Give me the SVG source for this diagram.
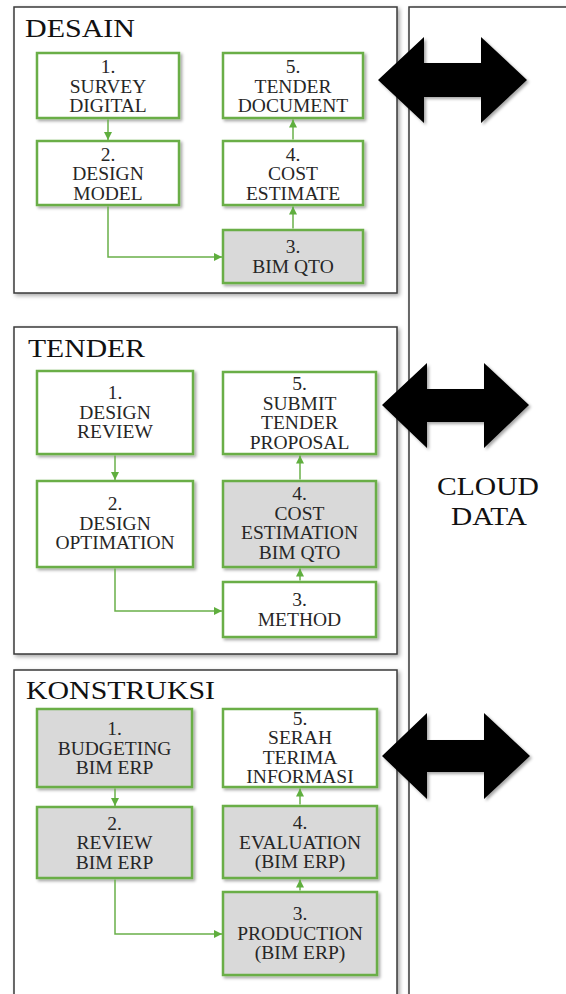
<svg xmlns="http://www.w3.org/2000/svg" width="566" height="994" viewBox="0 0 566 994">
  <defs>
    <filter id="shadow" x="-10%" y="-10%" width="130%" height="130%">
      <feDropShadow dx="2" dy="2" stdDeviation="1.6" flood-color="#000" flood-opacity="0.35"/>
    </filter>
    <filter id="panelShadow" x="-10%" y="-10%" width="130%" height="130%">
      <feDropShadow dx="2" dy="2" stdDeviation="2" flood-color="#000" flood-opacity="0.35"/>
    </filter>
    <marker id="arrow" markerUnits="userSpaceOnUse" markerWidth="9" markerHeight="9" refX="8" refY="4" orient="auto">
      <path d="M0,0 L8,4 L0,8 z" fill="#5FAE3E"/>
    </marker>
  </defs>

  <rect width="566" height="994" fill="#fff"/>

  <!-- Panels: white frames with a dark border and soft shadow -->
  <g fill="#fff" stroke="#3a3a3a" stroke-width="1.5">
    <rect id="panel-cloud" x="409" y="7" width="170" height="1000" filter="url(#panelShadow)"/>
    <rect id="panel-desain" x="14" y="7" width="383" height="286" filter="url(#panelShadow)"/>
    <rect id="panel-tender" x="14" y="327" width="383" height="327" filter="url(#panelShadow)"/>
    <rect id="panel-konstruksi" x="14" y="670" width="383" height="340" filter="url(#panelShadow)"/>
  </g>

  <!-- Panel titles -->
  <g id="titles" fill="#111">
    <text font-family="Liberation Serif" font-size="25" x="437" y="495" textLength="102" lengthAdjust="spacingAndGlyphs">CLOUD</text>
    <text font-family="Liberation Serif" font-size="25" x="451" y="525" textLength="76" lengthAdjust="spacingAndGlyphs">DATA</text>
    <text font-family="Liberation Serif" font-size="25" x="25" y="36.5" textLength="110" lengthAdjust="spacingAndGlyphs">DESAIN</text>
    <text font-family="Liberation Serif" font-size="25" x="28" y="357" textLength="117" lengthAdjust="spacingAndGlyphs">TENDER</text>
    <text font-family="Liberation Serif" font-size="25" x="26" y="699" textLength="189" lengthAdjust="spacingAndGlyphs">KONSTRUKSI</text>
  </g>

  <!-- Data exchange arrows -->
  <g id="exchange-arrows" fill="#000">
    <polygon filter="url(#shadow)" points="378,80 424,37 424,63 481,63 481,37 527,80 481,123 481,97 424,97 424,123"/>
    <polygon filter="url(#shadow)" points="382,405 427,363 427,389 484,389 484,363 529,405 484,448 484,422 427,422 427,448"/>
    <polygon filter="url(#shadow)" points="382,756 427,713 427,740 484,740 484,713 530,756 484,799 484,772 427,772 427,799"/>
  </g>

  <!-- Process steps: green outlined boxes; grey fill marks BIM-tool steps -->
  <g id="nodes" stroke="#6AAE47" stroke-width="2.5">
    <g id="desain-1">
      <rect x="37" y="53" width="142" height="65" fill="#fff" filter="url(#shadow)"/>
      <g fill="#262626" stroke="none" text-anchor="middle">
        <text font-family="Liberation Serif" font-size="19.5" x="108" y="73">1.</text>
        <text font-family="Liberation Serif" font-size="19.5" x="108" y="92.5">SURVEY</text>
        <text font-family="Liberation Serif" font-size="19.5" x="108" y="112">DIGITAL</text>
      </g>
    </g>
    <g id="desain-2">
      <rect x="37" y="141" width="142" height="64" fill="#fff" filter="url(#shadow)"/>
      <g fill="#262626" stroke="none" text-anchor="middle">
        <text font-family="Liberation Serif" font-size="19.5" x="108" y="160.5">2.</text>
        <text font-family="Liberation Serif" font-size="19.5" x="108" y="180">DESIGN</text>
        <text font-family="Liberation Serif" font-size="19.5" x="108" y="199.5">MODEL</text>
      </g>
    </g>
    <g id="desain-3">
      <rect x="223" y="230" width="140" height="53" fill="#D9D9D9" filter="url(#shadow)"/>
      <g fill="#262626" stroke="none" text-anchor="middle">
        <text font-family="Liberation Serif" font-size="19.5" x="293" y="253.3">3.</text>
        <text font-family="Liberation Serif" font-size="19.5" x="293" y="272.8">BIM QTO</text>
      </g>
    </g>
    <g id="desain-4">
      <rect x="223" y="141" width="140" height="64" fill="#fff" filter="url(#shadow)"/>
      <g fill="#262626" stroke="none" text-anchor="middle">
        <text font-family="Liberation Serif" font-size="19.5" x="293" y="160.5">4.</text>
        <text font-family="Liberation Serif" font-size="19.5" x="293" y="180">COST</text>
        <text font-family="Liberation Serif" font-size="19.5" x="293" y="199.5">ESTIMATE</text>
      </g>
    </g>
    <g id="desain-5">
      <rect x="223" y="53" width="140" height="65" fill="#fff" filter="url(#shadow)"/>
      <g fill="#262626" stroke="none" text-anchor="middle">
        <text font-family="Liberation Serif" font-size="19.5" x="293" y="73">5.</text>
        <text font-family="Liberation Serif" font-size="19.5" x="293" y="92.5">TENDER</text>
        <text font-family="Liberation Serif" font-size="19.5" x="293" y="112">DOCUMENT</text>
      </g>
    </g>

    <g id="tender-1">
      <rect x="37" y="371" width="156" height="83" fill="#fff" filter="url(#shadow)"/>
      <g fill="#262626" stroke="none" text-anchor="middle">
        <text font-family="Liberation Serif" font-size="19.5" x="115" y="399">1.</text>
        <text font-family="Liberation Serif" font-size="19.5" x="115" y="418.5">DESIGN</text>
        <text font-family="Liberation Serif" font-size="19.5" x="115" y="438">REVIEW</text>
      </g>
    </g>
    <g id="tender-2">
      <rect x="37" y="481" width="156" height="86" fill="#fff" filter="url(#shadow)"/>
      <g fill="#262626" stroke="none" text-anchor="middle">
        <text font-family="Liberation Serif" font-size="19.5" x="115" y="510">2.</text>
        <text font-family="Liberation Serif" font-size="19.5" x="115" y="529.5">DESIGN</text>
        <text font-family="Liberation Serif" font-size="19.5" x="115" y="549">OPTIMATION</text>
      </g>
    </g>
    <g id="tender-3">
      <rect x="223" y="582" width="153" height="55" fill="#fff" filter="url(#shadow)"/>
      <g fill="#262626" stroke="none" text-anchor="middle">
        <text font-family="Liberation Serif" font-size="19.5" x="299.5" y="606">3.</text>
        <text font-family="Liberation Serif" font-size="19.5" x="299.5" y="625.5">METHOD</text>
      </g>
    </g>
    <g id="tender-4">
      <rect x="223" y="481" width="153" height="86" fill="#D9D9D9" filter="url(#shadow)"/>
      <g fill="#262626" stroke="none" text-anchor="middle">
        <text font-family="Liberation Serif" font-size="19.5" x="299.5" y="500">4.</text>
        <text font-family="Liberation Serif" font-size="19.5" x="299.5" y="519.5">COST</text>
        <text font-family="Liberation Serif" font-size="19.5" x="299.5" y="539">ESTIMATION</text>
        <text font-family="Liberation Serif" font-size="19.5" x="299.5" y="558.5">BIM QTO</text>
      </g>
    </g>
    <g id="tender-5">
      <rect x="223" y="372" width="153" height="82" fill="#fff" filter="url(#shadow)"/>
      <g fill="#262626" stroke="none" text-anchor="middle">
        <text font-family="Liberation Serif" font-size="19.5" x="299.5" y="390">5.</text>
        <text font-family="Liberation Serif" font-size="19.5" x="299.5" y="409.5">SUBMIT</text>
        <text font-family="Liberation Serif" font-size="19.5" x="299.5" y="429">TENDER</text>
        <text font-family="Liberation Serif" font-size="19.5" x="299.5" y="448.5">PROPOSAL</text>
      </g>
    </g>

    <g id="konstruksi-1">
      <rect x="37" y="709" width="155" height="78" fill="#D9D9D9" filter="url(#shadow)"/>
      <g fill="#262626" stroke="none" text-anchor="middle">
        <text font-family="Liberation Serif" font-size="19.5" x="114.5" y="735">1.</text>
        <text font-family="Liberation Serif" font-size="19.5" x="114.5" y="754.5">BUDGETING</text>
        <text font-family="Liberation Serif" font-size="19.5" x="114.5" y="774">BIM ERP</text>
      </g>
    </g>
    <g id="konstruksi-2">
      <rect x="37" y="807" width="155" height="71" fill="#D9D9D9" filter="url(#shadow)"/>
      <g fill="#262626" stroke="none" text-anchor="middle">
        <text font-family="Liberation Serif" font-size="19.5" x="114.5" y="829.5">2.</text>
        <text font-family="Liberation Serif" font-size="19.5" x="114.5" y="849">REVIEW</text>
        <text font-family="Liberation Serif" font-size="19.5" x="114.5" y="868.5">BIM ERP</text>
      </g>
    </g>
    <g id="konstruksi-3">
      <rect x="223" y="892" width="154" height="83" fill="#D9D9D9" filter="url(#shadow)"/>
      <g fill="#262626" stroke="none" text-anchor="middle">
        <text font-family="Liberation Serif" font-size="19.5" x="300" y="920">3.</text>
        <text font-family="Liberation Serif" font-size="19.5" x="300" y="939.5">PRODUCTION</text>
        <text font-family="Liberation Serif" font-size="19.5" x="300" y="959">(BIM ERP)</text>
      </g>
    </g>
    <g id="konstruksi-4">
      <rect x="223" y="806" width="154" height="72" fill="#D9D9D9" filter="url(#shadow)"/>
      <g fill="#262626" stroke="none" text-anchor="middle">
        <text font-family="Liberation Serif" font-size="19.5" x="300" y="829">4.</text>
        <text font-family="Liberation Serif" font-size="19.5" x="300" y="848.5">EVALUATION</text>
        <text font-family="Liberation Serif" font-size="19.5" x="300" y="868">(BIM ERP)</text>
      </g>
    </g>
    <g id="konstruksi-5">
      <rect x="223" y="709" width="154" height="78" fill="#fff" filter="url(#shadow)"/>
      <g fill="#262626" stroke="none" text-anchor="middle">
        <text font-family="Liberation Serif" font-size="19.5" x="300" y="724.5">5.</text>
        <text font-family="Liberation Serif" font-size="19.5" x="300" y="744">SERAH</text>
        <text font-family="Liberation Serif" font-size="19.5" x="300" y="763.5">TERIMA</text>
        <text font-family="Liberation Serif" font-size="19.5" x="300" y="783">INFORMASI</text>
      </g>
    </g>
  </g>

  <!-- Connectors -->
  <g id="connectors" fill="none" stroke="#6AB04A" stroke-width="1.5">
    <path marker-end="url(#arrow)" d="M108 119.5 V140"/>
    <path marker-end="url(#arrow)" d="M108 206.5 V257 H222"/>
    <path marker-end="url(#arrow)" d="M293 228.5 V206.5"/>
    <path marker-end="url(#arrow)" d="M293 139.5 V119.5"/>

    <path marker-end="url(#arrow)" d="M115 455.5 V480"/>
    <path marker-end="url(#arrow)" d="M115 568.5 V611 H222"/>
    <path marker-end="url(#arrow)" d="M300 580.5 V568.5"/>
    <path marker-end="url(#arrow)" d="M300 479.5 V455.5"/>

    <path marker-end="url(#arrow)" d="M115 788.5 V806"/>
    <path marker-end="url(#arrow)" d="M115 879.5 V934 H222"/>
    <path marker-end="url(#arrow)" d="M300 890.5 V879.5"/>
    <path marker-end="url(#arrow)" d="M300 804.5 V788.5"/>
  </g>
</svg>
